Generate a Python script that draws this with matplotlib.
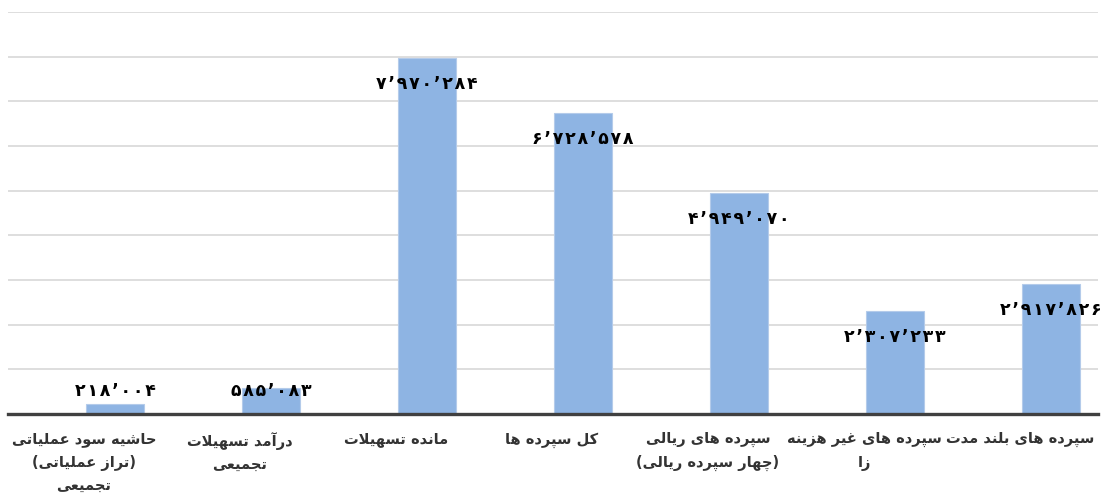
import numpy as np
import matplotlib.pyplot as plt
from matplotlib.ticker import MultipleLocator

categories = ['حاشیه سود عملیاتی\n(تراز عملیاتی)\nتجمیعی',
              'درآمد تسهیلات\nتجمیعی',
              'مانده تسهیلات',
              'کل سپرده ها',
              'سپرده های ریالی\n(چهار سپرده ریالی)',
              'سپرده های غیر هزینه\nزا',
              'سپرده های بلند مدت']
values = [218004, 585083, 7970284, 6728578, 4949070, 2307233, 2917826]

# presentation forms: isolated, final, initial, medial
FORMS = {
    'ا': (0xFE8D, 0xFE8E, None, None),
    'آ': (0xFE81, 0xFE82, None, None),
    'د': (0xFEA9, 0xFEAA, None, None),
    'ر': (0xFEAD, 0xFEAE, None, None),
    'ز': (0xFEAF, 0xFEB0, None, None),
    'و': (0xFEED, 0xFEEE, None, None),
    'ب': (0xFE8F, 0xFE90, 0xFE91, 0xFE92),
    'پ': (0xFB56, 0xFB57, 0xFB58, 0xFB59),
    'ت': (0xFE95, 0xFE96, 0xFE97, 0xFE98),
    'ج': (0xFE9D, 0xFE9E, 0xFE9F, 0xFEA0),
    'چ': (0xFB7A, 0xFB7B, 0xFB7C, 0xFB7D),
    'ح': (0xFEA1, 0xFEA2, 0xFEA3, 0xFEA4),
    'س': (0xFEB1, 0xFEB2, 0xFEB3, 0xFEB4),
    'ش': (0xFEB5, 0xFEB6, 0xFEB7, 0xFEB8),
    'ع': (0xFEC9, 0xFECA, 0xFECB, 0xFECC),
    'غ': (0xFECD, 0xFECE, 0xFECF, 0xFED0),
    'ک': (0xFB8E, 0xFB8F, 0xFB90, 0xFB91),
    'ل': (0xFEDD, 0xFEDE, 0xFEDF, 0xFEE0),
    'م': (0xFEE1, 0xFEE2, 0xFEE3, 0xFEE4),
    'ن': (0xFEE5, 0xFEE6, 0xFEE7, 0xFEE8),
    'ه': (0xFEE9, 0xFEEA, 0xFEEB, 0xFEEC),
    'ی': (0xFBFC, 0xFBFD, 0xFBFE, 0xFBFF),
}
MIRROR = {'(': ')', ')': '('}


def joins_left(ch):
    return ch in FORMS and FORMS[ch][2] is not None


def shape_line(s):
    out = []
    i = 0
    while i < len(s):
        c = s[i]
        prev = s[i - 1] if i > 0 else ''
        nxt = s[i + 1] if i + 1 < len(s) else ''
        if c not in FORMS:
            out.append(MIRROR.get(c, c))
            i += 1
            continue
        pj = joins_left(prev)
        if c == 'ل' and nxt == 'ا':
            out.append(chr(0xFEFC if pj else 0xFEFB))
            i += 2
            continue
        nj = joins_left(c) and nxt in FORMS
        iso, fin, ini, med = FORMS[c]
        if pj and nj:
            out.append(chr(med))
        elif pj:
            out.append(chr(fin))
        elif nj:
            out.append(chr(ini))
        else:
            out.append(chr(iso))
        i += 1
    return ''.join(out[::-1])


def rtl(text):
    return '\n'.join(shape_line(line) for line in text.split('\n'))


def fa_number(v):
    s = f'{v:,}'.translate(str.maketrans('0123456789,', '۰۱۲۳۴۵۶۷۸۹’'))
    # a little extra room between the digits
    return '\u200a'.join(s)


plt.rcParams['font.family'] = ['DejaVu Sans']

fig = plt.figure(figsize=(11.04, 5.01), dpi=100)
ax = fig.add_axes([0.0072, 0.1737, 0.9874, 0.8024])

x = np.arange(len(values))
ax.bar(x, values, width=0.37, color='#8EB4E3', edgecolor='#B4CBEA',
       linewidth=0.8, zorder=2)

for xi, v in zip(x, values):
    ax.text(xi, max(v - 580000, 520000), fa_number(v), ha='center',
            va='center', fontsize=12.5, fontweight='bold', color='black', zorder=3)

ax.set_xlim(-0.686, 6.30)
ax.set_ylim(0, 9000000)
ax.yaxis.set_major_locator(MultipleLocator(1000000))
ax.yaxis.grid(True, color='#D4D4D4', linewidth=1.1)
ax.set_axisbelow(True)
ax.tick_params(axis='y', left=False, labelleft=False)

ax.set_xticks(x - 0.2, [rtl(c) for c in categories])
ax.tick_params(axis='x', length=0, pad=13, labelsize=10.5, colors='#333333')
for lbl in ax.get_xticklabels():
    lbl.set_fontweight('bold')
    lbl.set_multialignment('center')
    lbl.set_linespacing(1.65)

for side in ['top', 'right', 'left']:
    ax.spines[side].set_visible(False)
ax.spines['bottom'].set_color('#404040')
ax.spines['bottom'].set_linewidth(2.4)
ax.spines['bottom'].set_zorder(4)

fig.savefig('out.png', dpi=100)
